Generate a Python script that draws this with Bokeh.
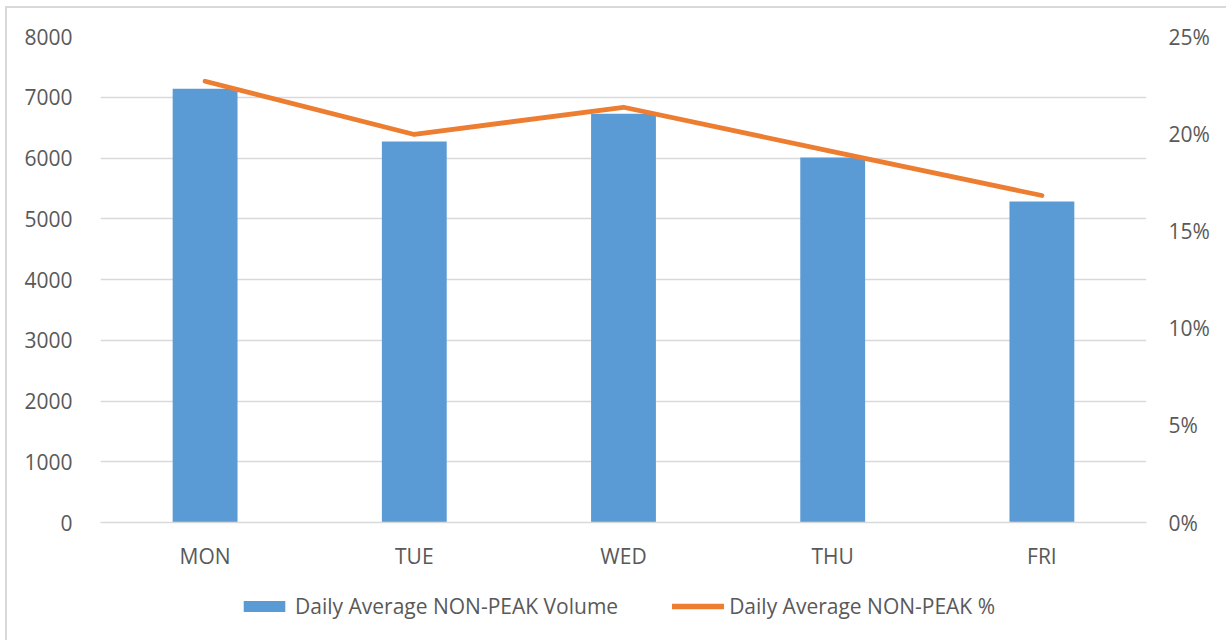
from bokeh.plotting import figure
from bokeh.layouts import column
from bokeh.models import (Range1d, LinearAxis, FactorRange, NumeralTickFormatter,
                          FixedTicker, Legend, LegendItem)
from bokeh.embed import file_html
from bokeh.resources import INLINE

days = ["MON", "TUE", "WED", "THU", "FRI"]
volume = [7140, 6270, 6730, 6010, 5285]
pct = [0.227, 0.1996, 0.2136, 0.1908, 0.1682]
vol_ticks = [0, 1000, 2000, 3000, 4000, 5000, 6000, 7000, 8000]
pct_ticks = [0, 0.05, 0.10, 0.15, 0.20, 0.25]
series_names = ["Daily Average NON-PEAK Volume", "Daily Average NON-PEAK %"]

TXT = "#595959"
FONT = "Open Sans"
BLUE = "#5b9bd5"
ORANGE = "#ed7d31"

p = figure(x_range=FactorRange(factors=days), y_range=Range1d(0, 8000),
           width=1219, height=572, output_backend="svg", toolbar_location=None,
           min_border_left=93, min_border_right=80, min_border_top=28,
           min_border_bottom=58)
p.outline_line_color = None
p.extra_y_ranges = {"pct": Range1d(0, 0.25)}

p.xgrid.visible = False
p.ygrid.grid_line_color = "#d9d9d9"
p.ygrid.grid_line_width = 1.5
p.ygrid.ticker = FixedTicker(ticks=vol_ticks)

bars = p.vbar(x=days, top=volume, width=0.31, fill_color=BLUE, line_color=None)
line = p.line(x=days, y=pct, y_range_name="pct", line_color=ORANGE,
              line_width=4.8, line_cap="round", line_join="round")

# left axis
ya = p.yaxis[0]
ya.ticker = FixedTicker(ticks=vol_ticks)
ya.axis_line_color = None
ya.major_tick_line_color = None
ya.minor_tick_line_color = None
ya.major_label_standoff = 22
ya.major_label_text_font = FONT
ya.major_label_text_font_size = "21px"
ya.major_label_text_color = TXT

# right axis
ra = LinearAxis(y_range_name="pct", ticker=FixedTicker(ticks=pct_ticks),
                formatter=NumeralTickFormatter(format="0%"))
ra.axis_line_color = None
ra.major_tick_line_color = None
ra.minor_tick_line_color = None
ra.major_label_standoff = 16
ra.major_label_text_font = FONT
ra.major_label_text_font_size = "21px"
ra.major_label_text_color = TXT
p.add_layout(ra, "right")

# x axis
xa = p.xaxis[0]
xa.axis_line_color = "#d9d9d9"
xa.axis_line_width = 1.5
xa.major_tick_line_color = None
xa.minor_tick_line_color = None
xa.major_label_standoff = 13
xa.major_label_text_font = FONT
xa.major_label_text_font_size = "21px"
xa.major_label_text_color = TXT

# legend strip (same series; plotted out of its visible range so only the legend shows)
lg = figure(width=1219, height=60, output_backend="svg", toolbar_location=None,
            x_range=FactorRange(factors=days), y_range=Range1d(10000, 10001),
            x_axis_location=None, y_axis_location=None,
            min_border_left=0, min_border_right=0, min_border_top=0,
            min_border_bottom=0)
lg.outline_line_color = None
lg.grid.visible = False
lb = lg.vbar(x=days, top=volume, width=0.31, fill_color=BLUE, line_color=None)
ll = lg.line(x=days, y=pct, line_color=ORANGE, line_width=5.5, line_cap="round")

legend = Legend(items=[LegendItem(label=series_names[0], renderers=[lb]),
                       LegendItem(label=series_names[1], renderers=[ll])],
                orientation="horizontal", location=(138, 20),
                border_line_color=None, background_fill_alpha=0,
                padding=0, margin=0, spacing=54, label_standoff=5,
                glyph_width=52, glyph_height=14, label_height=26,
                label_text_font=FONT,
                label_text_font_size="21px", label_text_color=TXT)
lg.add_layout(legend)

layout = column(p, lg, spacing=0)
layout.styles = {"border-left": "2px solid #d9d9d9", "border-top": "2px solid #d9d9d9",
                 "margin-left": "5px", "margin-top": "6px"}
open("out.html", "w").write(file_html(layout, INLINE))
